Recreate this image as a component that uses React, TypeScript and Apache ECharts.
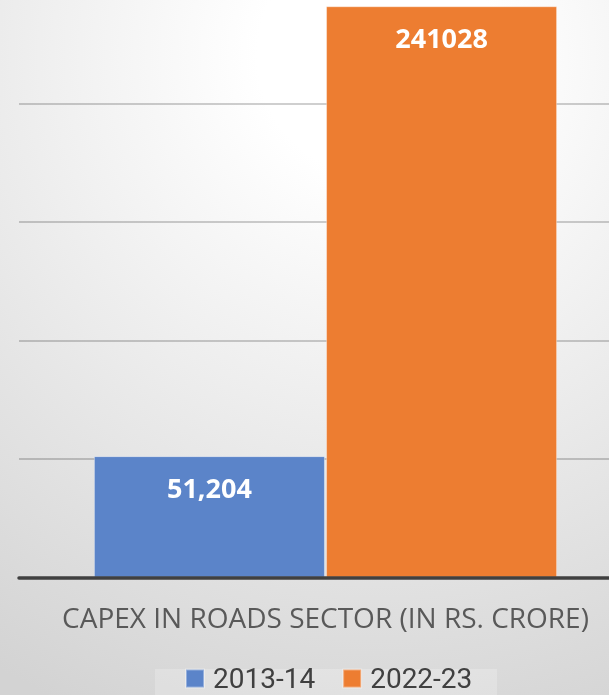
import React, { useEffect, useRef } from "react";
import * as echarts from "echarts";

const categories = ["CAPEX IN ROADS SECTOR (IN RS. CRORE)"];
const seriesNames = ["2013-14", "2022-23"];
const values2013 = [51204];
const values2022 = [241028];
const valueLabels = ["51,204", "241028"];
const seriesColors = ["#5B84C9", "#ED7D31"];

export default function App() {
  const ref = useRef<HTMLDivElement>(null);
  useEffect(() => {
    if (!ref.current) return;
    const chart = echarts.init(ref.current, undefined, { renderer: "svg" });
    const labelStyle = (txt: string) => ({
      show: true,
      position: "insideTop",
      distance: 18,
      color: "#ffffff",
      fontWeight: "bold",
      fontSize: 27,
      lineHeight: 27,
      fontFamily: "Open Sans",
      formatter: () => txt,
    });
    chart.setOption({
      animation: false,
      backgroundColor: "transparent",
      graphic: [
        {
          type: "rect",
          shape: { x: 155, y: 669, width: 342, height: 30 },
          style: { fill: "rgba(255,255,255,0.22)" },
          z: -1,
        },
      ],
      grid: {
        left: 19,
        width: 613,
        top: -15,
        height: 592.5,
        outerBoundsMode: "none",
        containLabel: false,
      },
      xAxis: {
        type: "category",
        data: categories,
        axisTick: { show: false },
        axisLine: { show: true, lineStyle: { color: "#404040", width: 3.5 } },
        axisLabel: {
          color: "#595959",
          fontSize: 28,
          fontFamily: "Open Sans",
          margin: 25,
        },
        z: 5,
      },
      yAxis: {
        type: "value",
        min: 0,
        max: 250000,
        interval: 50000,
        axisLabel: { show: false },
        axisLine: { show: false },
        axisTick: { show: false },
        splitLine: { lineStyle: { color: "rgba(0,0,0,0.25)", width: 1.5 } },
      },
      legend: {
        data: seriesNames,
        left: 185,
        top: 664.5,
        padding: 0,
        icon: "rect",
        itemWidth: 18,
        itemHeight: 18,
        itemGap: 27,
        textStyle: {
          fontSize: 28,
          lineHeight: 28,
          color: "#404040",
          fontFamily: "Roboto",
          padding: [0, 0, 0, 4],
        },
      },
      series: [
        {
          name: seriesNames[0],
          type: "bar",
          data: values2013,
          barWidth: 231,
          barGap: "0.5%",
          itemStyle: {
            color: seriesColors[0],
            borderColor: "rgba(255,255,255,0.35)",
            borderWidth: 1,
          },
          label: labelStyle(valueLabels[0]),
        },
        {
          name: seriesNames[1],
          type: "bar",
          data: values2022,
          barWidth: 231,
          barGap: "0.5%",
          itemStyle: {
            color: seriesColors[1],
            borderColor: "rgba(255,255,255,0.35)",
            borderWidth: 1,
          },
          label: labelStyle(valueLabels[1]),
        },
      ],
    });
    return () => chart.dispose();
  }, []);
  return (
    <div
      style={{
        position: "fixed",
        left: 0,
        top: 0,
        width: 609,
        height: 695,
        background:
          "radial-gradient(circle at 62% 8%, #ffffff 0px, #ffffff 120px, #d3d3d3 720px)",
      }}
    >
      <div ref={ref} style={{ width: 609, height: 695 }} />
    </div>
  );
}
